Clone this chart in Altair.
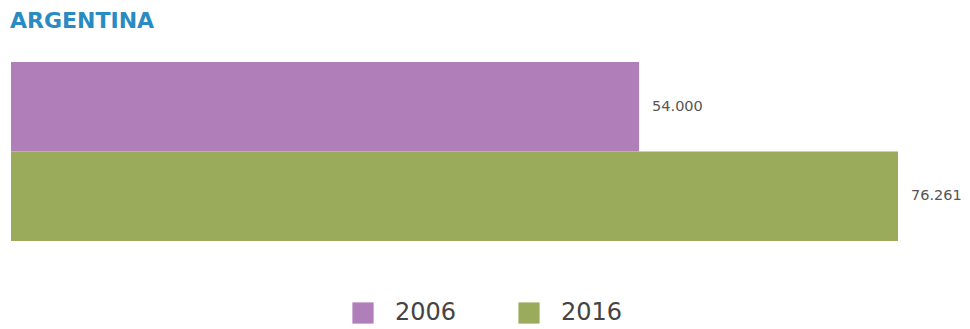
import altair as alt
import pandas as pd

years = ["2006", "2016"]
values = [54000, 76261]
labels = ["54.000", "76.261"]
colors = ["#b07fba", "#9aab5c"]

df = pd.DataFrame({"year": years, "value": values, "label": labels})

y_enc = alt.Y("year:N", axis=None, sort=years,
              scale=alt.Scale(paddingInner=0, paddingOuter=0))
x_enc = alt.X("value:Q", axis=None,
              scale=alt.Scale(domain=[0, max(values)], nice=False, zero=True))

bars = alt.Chart(df).mark_bar(cornerRadius=0).encode(
    y=y_enc,
    x=x_enc,
    color=alt.Color(
        "year:N",
        scale=alt.Scale(domain=years, range=colors),
        legend=alt.Legend(
            title=None,
            orient="none",
            direction="horizontal",
            legendX=340,
            legendY=239,
            padding=0,
            symbolType="square",
            symbolSize=450,
            symbolStrokeWidth=0,
            symbolOpacity=1,
            labelFont="DejaVu Sans",
            labelFontSize=24,
            labelColor="#444444",
            labelOffset=20,
            columnPadding=60,
        ),
    ),
)

text = alt.Chart(df).mark_text(
    align="left", baseline="middle", dx=13, font="DejaVu Sans",
    fontSize=14.5, color="#555555"
).encode(y=y_enc, x=x_enc, text="label:N")

chart = alt.layer(bars, text).properties(
    width=887,
    height=179,
    background="white",
    autosize=alt.AutoSizeParams(type="none"),
    padding={"left": 3, "top": 54, "right": 64, "bottom": 88},
    title=alt.TitleParams(
        "ARGENTINA", anchor="start", frame="group", font="DejaVu Sans",
        fontSize=22, fontWeight="bold", color="#2a8bc2", offset=29, dx=-1,
    ),
).configure_view(stroke=None)

chart.save("out.html", embed_options={"renderer": "svg", "actions": False})
